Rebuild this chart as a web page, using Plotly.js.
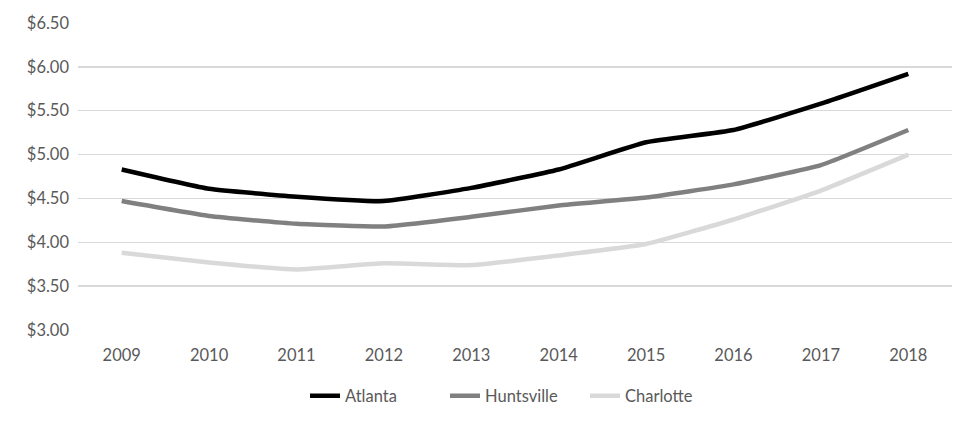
<!DOCTYPE html>
<html><head><meta charset="utf-8">
<script src="https://cdn.plot.ly/plotly-3.0.1.min.js"></script>
<style>html,body{margin:0;padding:0;background:#fff}#c{width:974px;height:424px}</style>
</head><body><div id="c"></div>
<script>
const years = ['2009','2010','2011','2012','2013','2014','2015','2016','2017','2018'];
const atlanta = [4.83, 4.61, 4.52, 4.47, 4.62, 4.83, 5.14, 5.28, 5.58, 5.92];
const huntsville = [4.47, 4.30, 4.21, 4.18, 4.29, 4.42, 4.51, 4.66, 4.88, 5.28];
const charlotte = [3.88, 3.77, 3.69, 3.76, 3.74, 3.85, 3.98, 4.26, 4.59, 5.00];
const yTicks = [3.0, 3.5, 4.0, 4.5, 5.0, 5.5, 6.0, 6.5];

const font = 'Lato, "Open Sans", sans-serif';
function tr(name, y, color){
  return {x: years, y: y, name: name, type: 'scatter', mode: 'lines',
    line: {color: color, width: 4.5, shape: 'spline', smoothing: 0.4}};
}
const data = [tr('Atlanta', atlanta, '#000000'), tr('Huntsville', huntsville, '#808080'), tr('Charlotte', charlotte, '#d9d9d9')];
const layout = {
  width: 974, height: 424,
  margin: {l: 78, r: 22, t: 23, b: 93},
  paper_bgcolor: '#fff', plot_bgcolor: '#fff',
  font: {family: font, size: 16.5, color: '#595959'},
  showlegend: true,
  legend: {orientation: 'h', x: 0.5, xanchor: 'center', y: -0.211, yanchor: 'middle',
    font: {family: font, size: 16.5, color: '#595959'}, itemwidth: 30, entrywidth: 95},
  xaxis: {type: 'category', range: [-0.5, 9.5], showgrid: false, zeroline: false,
    showline: false, ticks: '', ticklen: 0, ticklabelstandoff: 13, fixedrange: true},
  yaxis: {range: [3, 6.5], tickvals: yTicks, ticktext: yTicks.map(v => '$' + v.toFixed(2)),
    showgrid: true, gridcolor: '#d9d9d9', gridwidth: 1.3, zeroline: false, showline: false,
    ticks: '', ticklabelstandoff: 8, fixedrange: true}
};
Plotly.newPlot('c', data, layout, {displayModeBar: false, staticPlot: true});
</script></body></html>
